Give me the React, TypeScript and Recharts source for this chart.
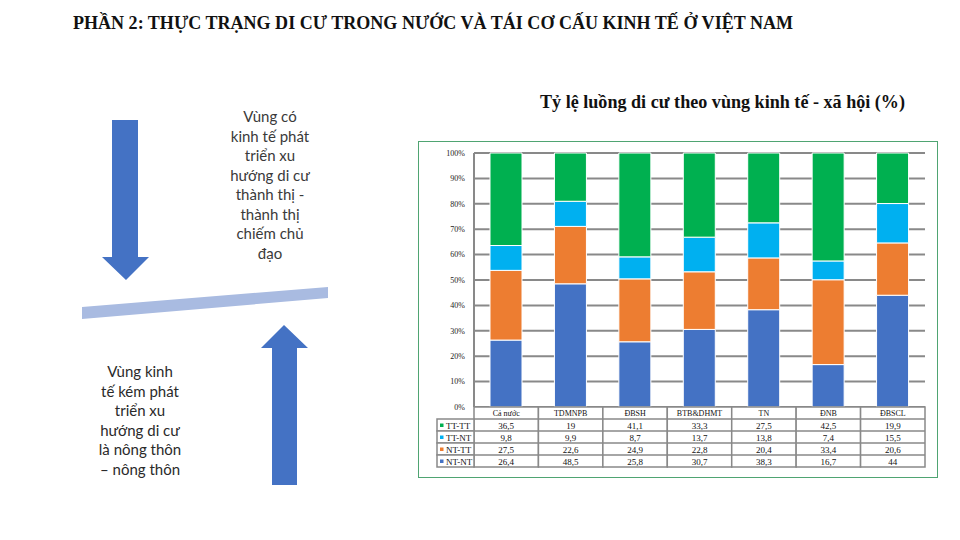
import { BarChart, Bar, XAxis, YAxis, CartesianGrid } from 'recharts';

// luồng di cư theo vùng (%), đọc từ bảng dưới biểu đồ
const categories = ['Cả nước', 'TDMNPB', 'ĐBSH', 'BTB&DHMT', 'TN', 'ĐNB', 'ĐBSCL'];
const ttTT = [36.5, 19, 41.1, 33.3, 27.5, 42.5, 19.9];
const ttNT = [9.8, 9.9, 8.7, 13.7, 13.8, 7.4, 15.5];
const ntTT = [27.5, 22.6, 24.9, 22.8, 20.4, 33.4, 20.6];
const ntNT = [26.4, 48.5, 25.8, 30.7, 38.3, 16.7, 44];
const yTicks = [0, 0.1, 0.2, 0.3, 0.4, 0.5, 0.6, 0.7, 0.8, 0.9, 1];

// table row order (top to bottom) = legend order
const series = [
  { key: 'ttTT', name: 'TT-TT', color: '#00B050', values: ttTT },
  { key: 'ttNT', name: 'TT-NT', color: '#00B0F0', values: ttNT },
  { key: 'ntTT', name: 'NT-TT', color: '#ED7D31', values: ntTT },
  { key: 'ntNT', name: 'NT-NT', color: '#4472C4', values: ntNT },
];

const data = categories.map((c, i) => ({
  name: c,
  ttTT: ttTT[i],
  ttNT: ttNT[i],
  ntTT: ntTT[i],
  ntNT: ntNT[i],
}));

const CHART_W = 518;
const CHART_H = 335;
const MARGIN = { top: 11, right: 12, bottom: 10, left: 0 };
const Y_AXIS_W = 55;
const X_AXIS_H = 60;
const PLOT_W = CHART_W - MARGIN.left - MARGIN.right - Y_AXIS_W;
const PLOT_BOTTOM = CHART_H - MARGIN.bottom - X_AXIS_H;
const BAND = PLOT_W / categories.length;
const ROW_H = 12;
const LEGEND_W = 37;
const GRID = '#898989';
const SERIF = '"Liberation Serif", "DejaVu Serif", serif';

const fmt = (v: number) => String(v).replace('.', ',');

function TableTick(props: any) {
  const { x, payload, index } = props;
  const left = x - BAND / 2;
  const top = PLOT_BOTTOM;
  const rows = series.length + 1;
  return (
    <g>
      <rect x={left} y={top} width={BAND} height={rows * ROW_H} fill="#fff" stroke={GRID} strokeWidth={1.5} />
      {series.map((s, r) => (
        <line key={s.key} x1={left} x2={left + BAND} y1={top + (r + 1) * ROW_H} y2={top + (r + 1) * ROW_H} stroke={GRID} strokeWidth={1.5} />
      ))}
      <text x={x} y={top + ROW_H / 2 + 3} textAnchor="middle" fontSize={8} fontFamily={SERIF} fill="#111">
        {payload.value}
      </text>
      {series.map((s, r) => (
        <text key={s.key} x={x} y={top + (r + 1) * ROW_H + ROW_H / 2 + 3.5} textAnchor="middle" fontSize={9} fontFamily={SERIF} fill="#111">
          {fmt(s.values[index])}
        </text>
      ))}
      {index === 0 &&
        series.map((s, r) => (
          <g key={s.key}>
            <rect x={left - LEGEND_W} y={top + (r + 1) * ROW_H} width={LEGEND_W} height={ROW_H} fill="#fff" stroke={GRID} strokeWidth={1.5} />
            <rect x={left - LEGEND_W + 3} y={top + (r + 1) * ROW_H + 4.5} width={3.5} height={3.5} fill={s.color} />
            <text x={left - LEGEND_W + 9} y={top + (r + 1) * ROW_H + ROW_H / 2 + 3.5} fontSize={9} fontFamily={SERIF} fill="#111">
              {s.name}
            </text>
          </g>
        ))}
    </g>
  );
}

export default function App() {
  return (
    <div style={{ position: 'absolute', left: 0, top: 0, width: 960, height: 540, background: '#fff', overflow: 'hidden' }}>
      <svg width={960} height={540} style={{ position: 'absolute', left: 0, top: 0 }}>
        <text x={73} y={29} fontSize={18} fontWeight="bold" fontFamily={SERIF} fill="#111" textLength={720} lengthAdjust="spacingAndGlyphs">
          PHẦN 2: THỰC TRẠNG DI CƯ TRONG NƯỚC VÀ TÁI CƠ CẤU KINH TẾ Ở VIỆT NAM
        </text>
        <text x={540} y={108} fontSize={18.5} fontWeight="bold" fontFamily={SERIF} fill="#111" textLength={365} lengthAdjust="spacingAndGlyphs">
          Tỷ lệ luồng di cư theo vùng kinh tế - xã hội (%)
        </text>
        <polygon points="112,120 138,120 138,257 149,257 126,280 102,257 112,257" fill="#4472C4" />
        <polygon points="82,307 328,287 328,298 82,319" fill="#A9BBE1" />
        <polygon points="284,325 308,348 297,348 297,485 272,485 272,348 261,348" fill="#4472C4" />
      </svg>

      <div
        style={{
          position: 'absolute', left: 200, top: 107, width: 140, textAlign: 'center',
          fontFamily: 'Lato, "Open Sans", sans-serif', fontSize: 15, lineHeight: '19.5px', color: '#3a3a3a', whiteSpace: 'nowrap',
        }}
      >
        Vùng có<br />kinh tế phát<br />triển xu<br />hướng di cư<br />thành thị -<br />thành thị<br />chiếm chủ<br />đạo
      </div>
      <div
        style={{
          position: 'absolute', left: 80, top: 362, width: 120, textAlign: 'center',
          fontFamily: 'Lato, "Open Sans", sans-serif', fontSize: 15, lineHeight: '19.5px', color: '#2a2a2a', whiteSpace: 'nowrap',
        }}
      >
        Vùng kinh<br />tế kém phát<br />triển xu<br />hướng di cư<br />là nông thôn<br />– nông thôn
      </div>

      <div
        style={{
          position: 'absolute', left: 418, top: 141, width: CHART_W + 2, height: CHART_H + 2,
          border: '1px solid #4FA472', boxSizing: 'border-box',
        }}
      />
      <div style={{ position: 'absolute', left: 419, top: 142 }}>
        <BarChart width={CHART_W} height={CHART_H} data={data} margin={MARGIN} stackOffset="expand" barSize={32}>
          <CartesianGrid horizontal vertical={false} stroke={GRID} strokeWidth={2} />
          <XAxis
            dataKey="name"
            height={X_AXIS_H}
            axisLine={false}
            tickLine={false}
            tick={<TableTick />}
            interval={0}
          />
          <YAxis
            width={Y_AXIS_W}
            domain={[0, 1]}
            ticks={yTicks}
            tickFormatter={(v: number) => `${Math.round(v * 100)}%`}
            axisLine={{ stroke: GRID, strokeWidth: 2 }}
            tickLine={false}
            tickSize={0}
            tickMargin={9}
            tick={{ fontSize: 8, fontFamily: SERIF, fill: '#222' }}
          />
          {[...series].reverse().map((s) => (
            <Bar
              key={s.key}
              dataKey={s.key}
              name={s.name}
              stackId="a"
              fill={s.color}
              stroke="#fff"
              strokeWidth={1}
              isAnimationActive={false}
            />
          ))}
        </BarChart>
      </div>
    </div>
  );
}
